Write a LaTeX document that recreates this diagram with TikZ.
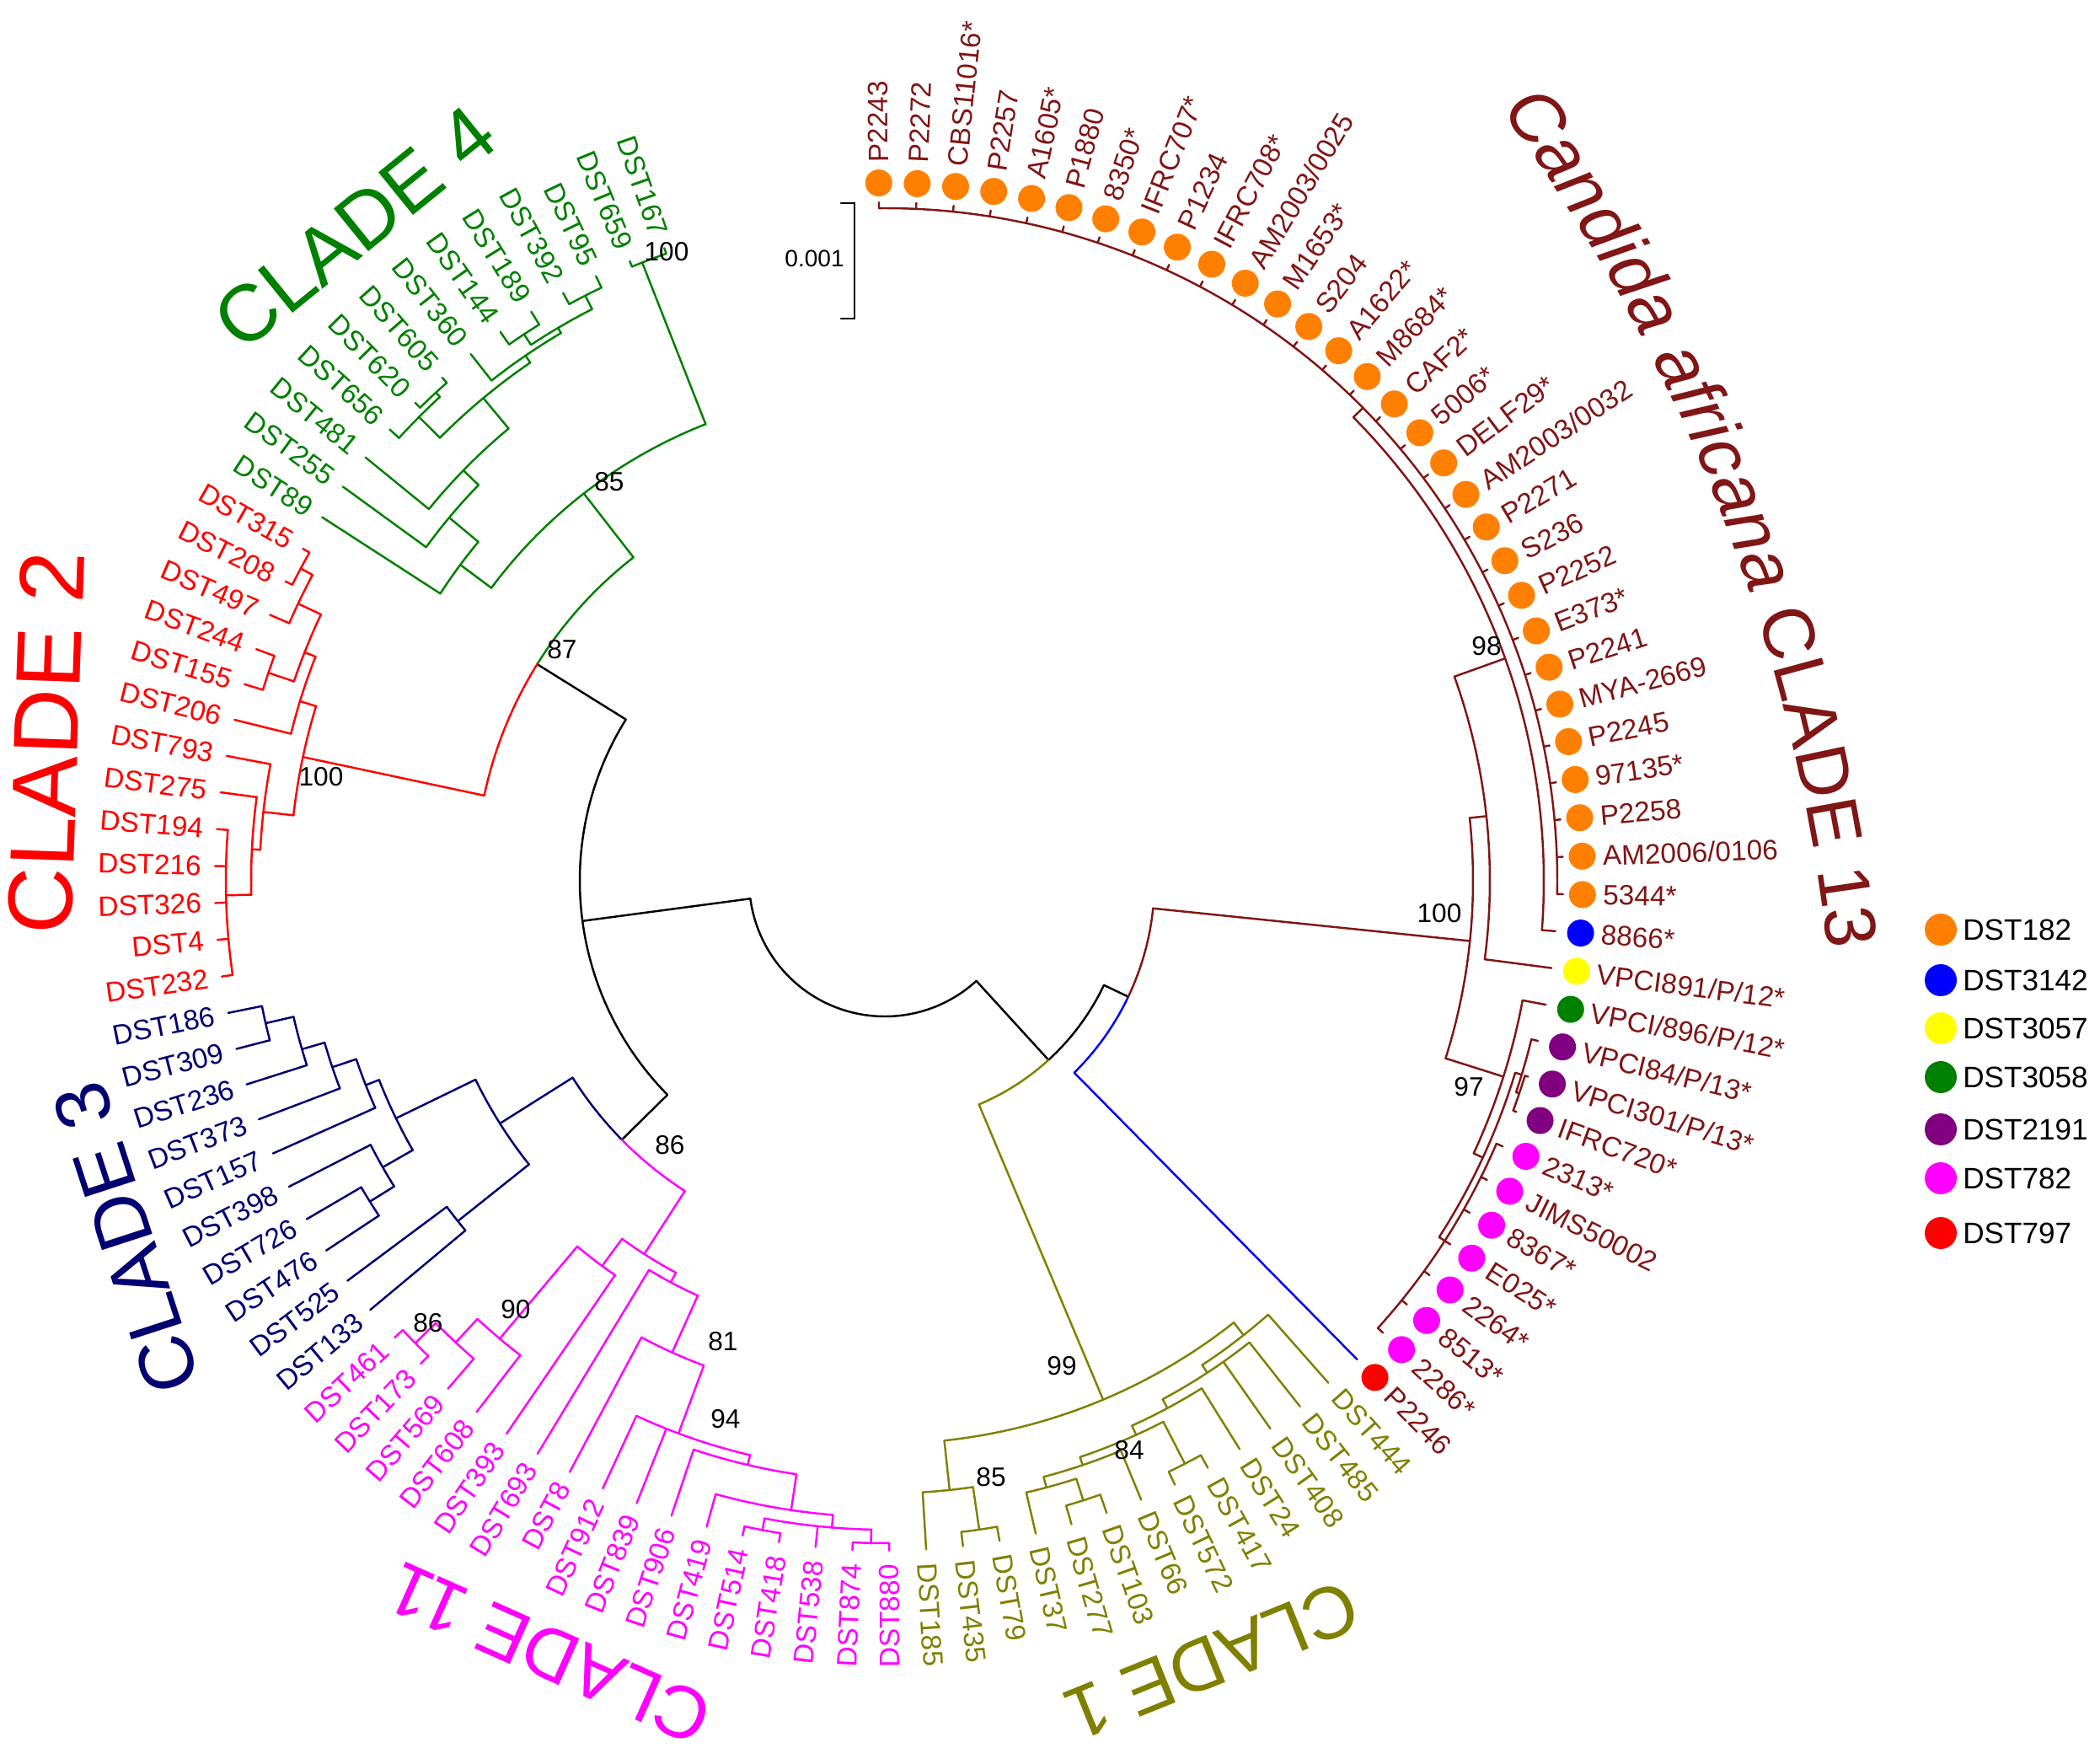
\documentclass[tikz,border=0pt]{standalone}
\usepackage{fontspec}
\setmainfont{Liberation Sans}
\usetikzlibrary{decorations.text}

\definecolor{cladefour}{RGB}{0,128,0}
\definecolor{cladetwo}{RGB}{255,0,0}
\definecolor{cladethree}{RGB}{0,0,112}
\definecolor{cladeeleven}{RGB}{255,0,255}
\definecolor{cladeone}{RGB}{128,128,0}
\definecolor{africana}{RGB}{128,22,22}
\definecolor{dstorange}{RGB}{255,128,0}
\definecolor{dstblue}{RGB}{0,0,255}
\definecolor{dstyellow}{RGB}{255,255,0}
\definecolor{dstgreen}{RGB}{0,128,0}
\definecolor{dstpurple}{RGB}{128,0,128}
\definecolor{dstpink}{RGB}{255,0,255}
\definecolor{dstred}{RGB}{255,0,0}

\newcommand{\treerad}[3]{\draw ({90.5-3.16*(#1)}:#2) -- ({90.5-3.16*(#1)}:#3);}
\newcommand{\treearc}[3]{\draw ({90.5-3.16*(#1)}:#3) arc[start angle={90.5-3.16*(#1)}, end angle={90.5-3.16*(#2)}, radius=#3];}

\begin{document}
\begin{tikzpicture}[line width=0.7pt, line cap=round,
    leaf/.style={font=\fontsize{9.5}{11}\selectfont, inner sep=1.5pt},
    boot/.style={font=\fontsize{9}{10}\selectfont, inner sep=0pt, text=black},
    clade/.style={font=\fontsize{#1}{#1}\selectfont, inner sep=0pt},
    isodot/.style={circle, inner sep=0pt, minimum size=0.32cm},
    keydot/.style={circle, inner sep=0pt, minimum size=0.38cm},
    keytext/.style={anchor=west, font=\fontsize{10}{12}\selectfont, inner sep=0pt}]
    \useasboundingbox (-10.50,-10.28) rectangle (14.42,10.45);

    \treearc{43.7}{83.2}{1.61}
    \treerad{83.2}{1.61}{3.62}
    \treearc{71.5}{95.7}{3.62}
    \treerad{95.7}{3.62}{4.86}
    \treerad{71.5}{3.62}{4.38}
    \treerad{43.7}{1.61}{2.88}
    \treearc{36.7}{43.7}{2.88}
    \treerad{36.7}{2.88}{3.2}

    \begin{scope}[color=cladefour]
    \treearc{95.7}{102.1}{4.86}
    \treerad{102.1}{4.86}{5.82}
    \treearc{97.2}{107.3}{5.82}
    \treerad{107.3}{5.82}{7.88}
    \treearc{107}{108}{7.88}
    \foreach \i in {107,108} {\treerad{\i}{7.88}{7.95}}
    \treerad{97.2}{5.82}{6.28}
    \treearc{96}{98.2}{6.28}
    \treerad{96}{6.28}{7.95}
    \treerad{98.2}{6.28}{6.73}
    \treearc{97}{99.6}{6.73}
    \treerad{97}{6.73}{7.95}
    \treerad{99.6}{6.73}{6.98}
    \treearc{98}{101.5}{6.98}
    \treerad{98}{6.98}{7.95}
    \treerad{101.5}{6.98}{7.45}
    \treearc{99.8}{103.2}{7.45}
    \treerad{99.8}{7.45}{7.8}
    \treearc{99}{100.6}{7.8}
    \treerad{99}{7.8}{7.95}
    \treerad{100.6}{7.8}{7.87}
    \treearc{100}{101}{7.87}
    \foreach \i in {100,101} {\treerad{\i}{7.87}{7.95}}
    \treerad{103.2}{7.45}{7.55}
    \treearc{102}{104.4}{7.55}
    \treerad{102}{7.55}{7.95}
    \treerad{104.4}{7.55}{7.62}
    \treearc{103.5}{105.5}{7.62}
    \treerad{103.5}{7.62}{7.77}
    \treearc{103}{104}{7.77}
    \foreach \i in {103,104} {\treerad{\i}{7.77}{7.95}}
    \treerad{105.5}{7.62}{7.8}
    \treearc{105}{106}{7.8}
    \foreach \i in {105,106} {\treerad{\i}{7.8}{7.95}}
    \foreach \i/\s in {96/DST89, 97/DST255, 98/DST481, 99/DST656, 100/DST620, 101/DST605, 102/DST360,
        103/DST144, 104/DST189, 105/DST392, 106/DST95, 107/DST659, 108/DST167}
    {
        \node[leaf, anchor=east, rotate={270.5-3.16*\i}] (n\i) at ({90.5-3.16*\i}:8.05) {\s};
    }
    \node[clade=27, rotate=39] (c4) at (-6.29,7.75) {CLADE 4};
    \end{scope}

    \begin{scope}[color=cladetwo]
    \treearc{89.4}{95.7}{4.86}
    \treerad{89.4}{4.86}{7.06}
    \treearc{87.6}{91}{7.06}
    \treerad{87.6}{7.06}{7.42}
    \treearc{86.5}{89}{7.42}
    \treerad{89}{7.42}{7.95}
    \treerad{86.5}{7.42}{7.52}
    \treearc{85.2}{88}{7.52}
    \treerad{88}{7.52}{7.95}
    \treerad{85.2}{7.52}{7.82}
    \treearc{83}{87}{7.82}
    \foreach \i in {83,...,87} {\treerad{\i}{7.82}{7.95}}
    \treerad{91}{7.06}{7.26}
    \treearc{90}{92.4}{7.26}
    \treerad{90}{7.26}{7.95}
    \treerad{92.4}{7.26}{7.4}
    \treearc{91.5}{93.6}{7.4}
    \treerad{91.5}{7.4}{7.72}
    \treearc{91}{92}{7.72}
    \foreach \i in {91,92} {\treerad{\i}{7.72}{7.95}}
    \treerad{93.6}{7.4}{7.7}
    \treearc{93}{94.5}{7.7}
    \treerad{93}{7.7}{7.95}
    \treerad{94.5}{7.7}{7.86}
    \treearc{94}{95}{7.86}
    \foreach \i in {94,95} {\treerad{\i}{7.86}{7.95}}
    \foreach \i/\s in {83/DST232, 84/DST4, 85/DST326, 86/DST216, 87/DST194, 88/DST275, 89/DST793,
        90/DST206, 91/DST155, 92/DST244, 93/DST497, 94/DST208, 95/DST315}
    {
        \node[leaf, anchor=east, rotate={270.5-3.16*\i}] (n\i) at ({90.5-3.16*\i}:8.05) {\s};
    }
    \node[clade=31, rotate=88] (c2) at (-9.95,1.64) {CLADE 2};
    \end{scope}

    \begin{scope}[color=cladethree]
    \treearc{71.5}{75.4}{4.38}
    \treerad{75.4}{4.38}{5.4}
    \treearc{73.4}{77.4}{5.4}
    \treerad{73.4}{5.4}{6.48}
    \treearc{73}{74}{6.48}
    \foreach \i in {73,74} {\treerad{\i}{6.48}{7.95}}
    \treerad{77.4}{5.4}{6.45}
    \treearc{76.2}{78.8}{6.45}
    \treerad{76.2}{6.45}{6.86}
    \treearc{75.5}{77}{6.86}
    \treerad{77}{6.86}{7.95}
    \treerad{75.5}{6.86}{7.2}
    \treearc{75}{76}{7.2}
    \foreach \i in {75,76} {\treerad{\i}{7.2}{7.95}}
    \treerad{78.8}{6.45}{6.62}
    \treearc{78}{79.7}{6.62}
    \treerad{78}{6.62}{7.95}
    \treerad{79.7}{6.62}{6.92}
    \treearc{79}{80.5}{6.92}
    \treerad{79}{6.92}{7.95}
    \treerad{80.5}{6.92}{7.2}
    \treearc{80}{81.5}{7.2}
    \treerad{80}{7.2}{7.95}
    \treerad{81.5}{7.2}{7.54}
    \treearc{81}{82}{7.54}
    \foreach \i in {81,82} {\treerad{\i}{7.54}{7.95}}
    \foreach \i/\s in {73/DST133, 74/DST525, 75/DST476, 76/DST726, 77/DST398, 78/DST157, 79/DST373,
        80/DST236, 81/DST309, 82/DST186}
    {
        \node[leaf, anchor=east, rotate={270.5-3.16*\i}] (n\i) at ({90.5-3.16*\i}:8.05) {\s};
    }
    \node[clade=26, rotate=108] (c3) at (-9.0,-4.24) {CLADE 3};
    \end{scope}

    \begin{scope}[color=cladeeleven]
    \treearc{67.5}{71.5}{4.38}
    \treerad{67.5}{4.38}{5.27}
    \treearc{66}{68.6}{5.27}
    \treerad{68.6}{5.27}{5.67}
    \treearc{68}{69.8}{5.67}
    \treerad{68}{5.67}{7.95}
    \treerad{69.8}{5.67}{7.1}
    \treearc{69}{70.7}{7.1}
    \treerad{69}{7.1}{7.95}
    \treerad{70.7}{7.1}{7.48}
    \treearc{70}{71.5}{7.48}
    \treerad{70}{7.48}{7.95}
    \treerad{71.5}{7.48}{7.82}
    \treearc{71}{72}{7.82}
    \foreach \i in {71,72} {\treerad{\i}{7.82}{7.95}}
    \treerad{66}{5.27}{5.4}
    \treearc{64.8}{67}{5.4}
    \treerad{67}{5.4}{7.95}
    \treerad{64.8}{5.4}{6.14}
    \treearc{63.6}{66}{6.14}
    \treerad{66}{6.14}{7.95}
    \treerad{63.6}{6.14}{7.0}
    \treearc{61.3}{65}{7.0}
    \foreach \i in {64,65} {\treerad{\i}{7.0}{7.95}}
    \treerad{61.3}{7.0}{7.12}
    \treearc{59.8}{63}{7.12}
    \treerad{63}{7.12}{7.95}
    \treerad{59.8}{7.12}{7.55}
    \treearc{58.6}{62}{7.55}
    \treerad{62}{7.55}{7.95}
    \treerad{58.6}{7.55}{7.7}
    \treearc{57.5}{60.5}{7.7}
    \treerad{59}{7.7}{7.95}
    \treerad{60.5}{7.7}{7.84}
    \treearc{60}{61}{7.84}
    \foreach \i in {60,61} {\treerad{\i}{7.84}{7.95}}
    \treerad{57.5}{7.7}{7.86}
    \treearc{57}{58}{7.86}
    \foreach \i in {57,58} {\treerad{\i}{7.86}{7.95}}
    \foreach \i/\s in {57/DST880, 58/DST874, 59/DST538, 60/DST418, 61/DST514, 62/DST419, 63/DST906,
        64/DST839, 65/DST912, 66/DST8, 67/DST693, 68/DST393, 69/DST608, 70/DST569, 71/DST173, 72/DST461}
    {
        \node[leaf, anchor=east, rotate={270.5-3.16*\i}] (n\i) at ({90.5-3.16*\i}:8.05) {\s};
    }
    \node[clade=25, rotate=156] (c11) at (-3.98,-9.17) {CLADE 11};
    \end{scope}

    \begin{scope}[color=cladeone]
    \treearc{43.7}{49.9}{2.88}
    \treerad{49.9}{2.88}{6.68}
    \treearc{45}{55.2}{6.68}
    \treerad{55.2}{6.68}{7.27}
    \treearc{54.5}{56}{7.27}
    \treerad{56}{7.27}{7.95}
    \treerad{54.5}{7.27}{7.78}
    \treearc{54}{55}{7.78}
    \foreach \i in {54,55} {\treerad{\i}{7.78}{7.95}}
    \treerad{45}{6.68}{6.87}
    \treearc{44}{46.6}{6.87}
    \treerad{44}{6.87}{7.95}
    \treerad{46.6}{6.87}{6.98}
    \treearc{45}{48.2}{6.98}
    \foreach \i in {45,46} {\treerad{\i}{6.98}{7.95}}
    \treerad{48.2}{6.98}{7.1}
    \treearc{47}{49.4}{7.1}
    \treerad{47}{7.1}{7.95}
    \treerad{49.4}{7.1}{7.22}
    \treearc{48.5}{51.2}{7.22}
    \treerad{48.5}{7.22}{7.78}
    \treearc{48}{49}{7.78}
    \foreach \i in {48,49} {\treerad{\i}{7.78}{7.95}}
    \treerad{51.2}{7.22}{7.32}
    \treearc{50}{52.4}{7.32}
    \treerad{50}{7.32}{7.95}
    \treerad{52.4}{7.32}{7.45}
    \treearc{51.5}{53}{7.45}
    \treerad{53}{7.45}{7.95}
    \treerad{51.5}{7.45}{7.72}
    \treearc{51}{52}{7.72}
    \foreach \i in {51,52} {\treerad{\i}{7.72}{7.95}}
    \foreach \i/\s in {44/DST444, 45/DST485, 46/DST408, 47/DST24, 48/DST417, 49/DST572, 50/DST66,
        51/DST103, 52/DST277, 53/DST37, 54/DST79, 55/DST435, 56/DST185}
    {
        \node[leaf, anchor=west, rotate={90.5-3.16*\i}] (n\i) at ({90.5-3.16*\i}:8.05) {\s};
    }
    \node[clade=25, rotate=202] (c1) at (3.88,-9.25) {CLADE 1};
    \end{scope}

    \begin{scope}[color=dstblue]
    \treearc{36.7}{43}{3.2}
    \treerad{43}{3.2}{7.98}
    \end{scope}

    \begin{scope}[color=africana]
    \treearc{30.5}{36.7}{3.2}
    \treerad{30.5}{3.2}{6.98}
    \treearc{26.7}{34.2}{6.98}
    \treerad{26.7}{6.98}{7.18}
    \treearc{22.4}{31}{7.18}
    \treerad{31}{7.18}{7.98}
    \treerad{22.4}{7.18}{7.82}
    \treearc{14.5}{30}{7.82}
    \treerad{30}{7.82}{7.98}
    \treerad{14.5}{7.82}{7.98}
    \treearc{0}{29}{7.98}
    \foreach \i in {0,...,29} {\treerad{\i}{7.98}{8.05}}
    \treerad{34.2}{6.98}{7.7}
    \treearc{32}{36.5}{7.7}
    \treerad{32}{7.7}{7.98}
    \treerad{36.5}{7.7}{7.82}
    \treearc{34}{39}{7.82}
    \treerad{34}{7.82}{7.9}
    \treearc{33}{34.5}{7.9}
    \treerad{33}{7.9}{7.98}
    \treerad{34.5}{7.9}{7.94}
    \treearc{34}{35}{7.94}
    \foreach \i in {34,35} {\treerad{\i}{7.94}{7.98}}
    \treerad{39}{7.82}{7.9}
    \treearc{36}{42}{7.9}
    \foreach \i in {36,...,42} {\treerad{\i}{7.9}{7.98}}
    \foreach \i/\s/\c in {0/P2243/dstorange, 1/P2272/dstorange, 2/CBS11016*/dstorange, 3/P2257/dstorange,
        4/A1605*/dstorange, 5/P1880/dstorange, 6/8350*/dstorange, 7/IFRC707*/dstorange, 8/P1234/dstorange,
        9/IFRC708*/dstorange, 10/{AM2003/0025}/dstorange, 11/M1653*/dstorange, 12/S204/dstorange,
        13/A1622*/dstorange, 14/M8684*/dstorange, 15/CAF2*/dstorange, 16/5006*/dstorange,
        17/DELF29*/dstorange, 18/{AM2003/0032}/dstorange, 19/P2271/dstorange, 20/S236/dstorange,
        21/P2252/dstorange, 22/E373*/dstorange, 23/P2241/dstorange, 24/MYA-2669/dstorange,
        25/P2245/dstorange, 26/97135*/dstorange, 27/P2258/dstorange, 28/{AM2006/0106}/dstorange,
        29/5344*/dstorange, 30/8866*/dstblue, 31/{VPCI891/P/12*}/dstyellow, 32/{VPCI/896/P/12*}/dstgreen,
        33/{VPCI84/P/13*}/dstpurple, 34/{VPCI301/P/13*}/dstpurple, 35/IFRC720*/dstpurple,
        36/2313*/dstpink, 37/JIMS50002/dstpink, 38/8367*/dstpink, 39/E025*/dstpink, 40/2264*/dstpink,
        41/8513*/dstpink, 42/2286*/dstpink, 43/P2246/dstred}
    {
        \node[isodot, fill=\c] (d\i) at ({90.5-3.16*\i}:8.28) {};
        \node[leaf, anchor=west, rotate={90.5-3.16*\i}] (n\i) at ({90.5-3.16*\i}:8.46) {\s};
    }
    \path[shift={(-9.38,-3.1)}, decorate, decoration={text along path, text align=center, text color=africana,
        text={|\fontsize{24.5}{24.5}\selectfont\itshape|Candida africana |\fontsize{24.5}{24.5}\selectfont\upshape|CLADE 13}}]
        (40:20.7) arc[start angle=40, end angle=2.6, radius=20.7];
    \end{scope}

    \foreach \x/\y/\v [count=\k] in {-2.59/7.46/100, -3.27/4.73/85, -3.83/2.74/87, -6.69/1.23/100,
        -2.55/-3.14/86, -5.42/-5.25/86, -4.38/-5.09/90, -1.92/-5.47/81, -1.89/-6.39/94, 2.10/-5.76/99,
        1.26/-7.08/85, 2.90/-6.76/84, 6.58/-0.39/100, 7.14/2.78/98, 6.93/-2.45/97}
    {
        \node[boot] (b\k) at (\x,\y) {\v};
    }

    \coordinate (s1) at (-0.36,8.04);
    \coordinate (s2) at (-0.36,6.67);
    \draw (-0.52,8.04) -- (s1) -- (s2) -- (-0.52,6.67);
    \node[boot, anchor=east, font=\fontsize{8}{9}\selectfont] (scale) at (-0.47,7.38) {0.001};

    \foreach \y/\c/\s [count=\k] in {-0.58/dstorange/DST182, -1.18/dstblue/DST3142, -1.75/dstyellow/DST3057,
        -2.33/dstgreen/DST3058, -2.95/dstpurple/DST2191, -3.53/dstpink/DST782, -4.18/dstred/DST797}
    {
        \node[keydot, fill=\c] (k\k) at (12.53,\y) {};
        \node[keytext] (t\k) at (12.78,\y) {\s};
    }
\end{tikzpicture}
\end{document}
